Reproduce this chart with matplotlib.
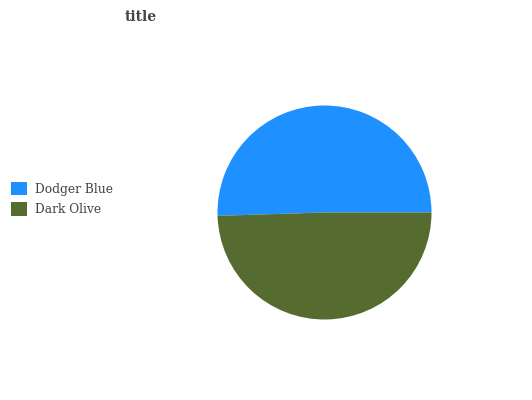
import matplotlib
matplotlib.use("Agg")
import matplotlib.pyplot as plt
from matplotlib.patches import Patch

labels = ["Dodger Blue", "Dark Olive"]
values = [50.5, 49.5]
colors = ["#1E90FF", "#556B2F"]

plt.rcParams['font.family'] = ['DejaVu Serif']

fig = plt.figure(figsize=(5.32, 4.0), dpi=100)
# pie axes placed to match the reference (center ~ (324, 213), r ~ 107 px)
ax = fig.add_axes([217.5 / 532, 1 - 319.5 / 400, 214 / 532, 214 / 400])
ax.pie(values, colors=colors, startangle=0, counterclock=True,
       wedgeprops=dict(linewidth=0))
ax.set_xlim(-1, 1)
ax.set_ylim(-1, 1)
ax.set_aspect('equal')
ax.axis('off')

fig.text(141 / 532, 1 - 17 / 400, "title", ha='center', va='center',
         fontsize=10, fontweight='bold', color='#444444')

handles = [Patch(facecolor=c, edgecolor='none') for c in colors]
fig.legend(handles, labels, loc='center left', bbox_to_anchor=(0.0, 1 - 199 / 400),
           frameon=False, fontsize=8.8, labelcolor='#444444',
           handlelength=1.3, handleheight=1.3, handletextpad=0.65, labelspacing=0.55)

fig.savefig("out.png", dpi=100)
